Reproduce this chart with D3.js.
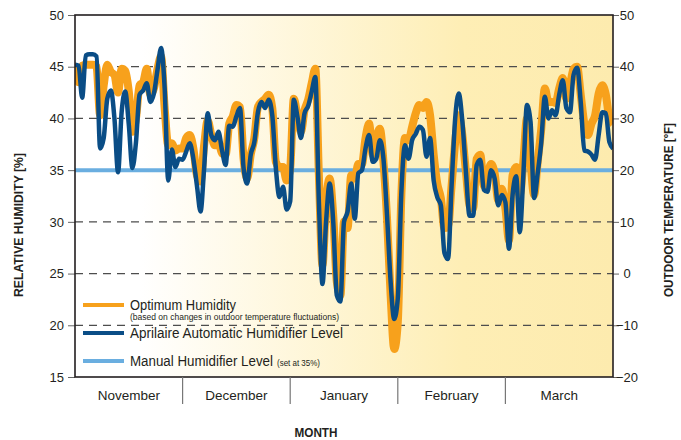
<!DOCTYPE html>
<html>
<head>
<meta charset="utf-8">
<script src="https://cdn.jsdelivr.net/npm/d3@7"></script>
<style>
body{margin:0;background:#fff;}
svg{display:block;}
text{font-family:'Liberation Sans Narrow','Liberation Sans',Arial,sans-serif;fill:#231f20;}
</style>
</head>
<body>
<svg id="chart" width="681" height="440"></svg>
<script>
// month bands on the x axis
var months=["November","December","January","February","March"];

// humidity ticks on the left, temperature ticks on the right
var humidityTicks=[15,20,25,30,35,40,45,50];
var tempTicks=[-20,-10,0,10,20,30,40,50];
var gridLevels=[20,25,30,40,45];

// one value per day, Nov 1 .. Mar 31
var optimum=[
45.2,43.5,45.1,45.2,45.2,45.2,45.0,40.3,43.2,45.2,
44.5,44.2,42.5,44.8,44.6,42.6,38.7,40.0,43.2,43.5,
44.8,42.3,42.9,44.8,46.0,41.0,37.4,37.6,36.9,37.1,
37.1,38.1,38.4,37.1,34.5,33.9,37.4,39.8,38.4,37.4,
37.7,36.6,36.5,39.5,40.2,41.3,41.1,36.1,34.2,36.5,
38.1,41.1,41.6,41.9,42.3,41.0,35.8,35.3,35.3,34.0,
35.2,41.9,40.3,38.7,40.8,41.8,43.4,44.8,34.5,25.8,
31.9,34.2,30.6,24.2,22.9,30.0,29.4,34.5,34.2,35.6,
35.6,38.1,39.5,36.5,38.1,39.0,35.8,30.3,22.9,17.7,
20.3,32.6,38.1,37.9,39.2,40.5,41.3,41.0,41.6,40.3,
36.5,33.7,32.3,29.4,29.5,33.5,37.7,40.3,38.4,34.8,
31.6,31.3,36.1,36.5,33.5,34.5,35.6,34.7,32.1,33.2,
31.3,28.2,34.5,35.3,32.6,35.8,40.0,35.8,32.6,35.8,
39.0,42.9,41.6,41.6,41.5,42.9,43.9,41.9,43.2,44.8,
45.0,42.3,39.5,38.4,39.5,40.3,42.4,43.2,42.3,40.0,
39.5];

var aprilaire=[
45.2,45.1,42.0,46.1,46.2,46.2,46.0,37.1,38.1,41.9,
42.7,40.0,34.8,40.6,42.6,39.4,35.2,37.7,42.3,42.7,
43.4,41.6,42.4,44.7,46.8,42.9,34.0,37.0,35.3,36.1,
36.0,36.8,37.6,36.1,33.5,31.0,35.2,40.5,38.4,37.9,
38.7,36.9,35.5,39.3,39.2,40.2,41.0,35.2,33.7,36.5,
37.7,40.6,41.6,41.0,41.8,40.3,35.2,32.4,33.4,31.2,
32.0,41.8,40.2,38.1,40.5,41.2,42.6,44.0,31.9,24.0,
30.0,33.7,30.0,22.9,22.3,30.0,31.0,33.7,30.3,34.7,
35.0,37.1,38.4,35.8,36.1,37.9,36.1,30.6,24.2,20.6,
22.6,32.9,37.4,36.1,37.9,38.5,39.2,38.9,36.3,38.1,
34.0,32.4,31.6,27.0,26.4,33.5,40.0,42.4,39.7,34.8,
30.6,30.6,35.5,36.0,33.1,32.9,35.0,34.2,31.6,32.6,
31.9,27.4,32.6,34.4,29.0,34.5,41.3,39.7,32.3,34.7,
37.7,42.1,40.0,40.8,40.3,42.3,43.7,41.0,40.6,44.2,
44.9,41.6,36.9,36.8,36.5,36.0,38.4,40.6,40.5,37.7,
37.1];

var manualLevel=35;

var Chart=function(){
	this.svg=d3.select("#chart");
	this.box={left:75,right:613,top:15,bottom:377};
}

Chart.prototype.render=function(){
	var svg=this.svg, box=this.box;

	var x=d3.scaleLinear().domain([0,optimum.length-1]).range([box.left,box.right]);
	var y=d3.scaleLinear().domain([15,50]).range([box.bottom,box.top]);
	var yT=d3.scaleLinear().domain([-20,50]).range([box.bottom,box.top]);
	var xm=d3.scaleBand().domain(months).range([box.left,box.right]);

	// background fade white -> yellow
	var defs=svg.append("defs");
	var grad=defs.append("linearGradient").attr("id","bg").attr("x1","0").attr("x2","1").attr("y1","0").attr("y2","0");
	grad.append("stop").attr("offset","0.12").attr("stop-color","#ffffff");
	grad.append("stop").attr("offset","0.72").attr("stop-color","#feeeb5");
	grad.append("stop").attr("offset","1").attr("stop-color","#fdebae");
	defs.append("clipPath").attr("id","clip").append("rect")
		.attr("x",box.left).attr("y",box.top).attr("width",box.right-box.left).attr("height",box.bottom-box.top);

	svg.append("rect").attr("x",box.left).attr("y",box.top)
		.attr("width",box.right-box.left).attr("height",box.bottom-box.top)
		.attr("fill","url(#bg)");

	//dashed grid
	svg.append("g").selectAll("line").data(gridLevels).enter().append("line")
		.attr("x1",box.left).attr("x2",box.right)
		.attr("y1",function(d){return y(d);}).attr("y2",function(d){return y(d);})
		.attr("stroke","#4d4d4d").attr("stroke-width",1.2).attr("stroke-dasharray","8,6");

	// left axis
	var left=svg.append("g").attr("transform","translate("+box.left+",0)")
		.call(d3.axisLeft(y).tickValues(humidityTicks).tickSize(7).tickPadding(4));
	left.select(".domain").remove();
	left.selectAll("line").attr("stroke","#666");
	left.selectAll("text").style("font-size","13px").attr("fill","#231f20");

	// right axis
	var right=svg.append("g").attr("transform","translate("+box.right+",0)")
		.call(d3.axisRight(yT).tickValues(tempTicks).tickSize(6).tickPadding(3));
	right.select(".domain").remove();
	right.selectAll("line").attr("stroke","#666");
	right.selectAll("text").style("font-size","13px").attr("fill","#231f20")
		.attr("text-anchor","middle").attr("x",14);

	// lines
	var line=function(arr){
		return d3.line().x(function(d,i){return x(i);}).y(function(d){return y(d);})
			.curve(d3.curveMonotoneX)(arr);
	}
	var plot=svg.append("g").attr("clip-path","url(#clip)");
	plot.append("line").attr("x1",box.left).attr("x2",box.right)
		.attr("y1",y(manualLevel)).attr("y2",y(manualLevel))
		.attr("stroke","#6aaee0").attr("stroke-width",4);
	plot.append("path").attr("d",line(optimum)).attr("fill","none")
		.attr("stroke","#f7a11c").attr("stroke-width",8).attr("stroke-linejoin","round");
	plot.append("path").attr("d",line(aprilaire)).attr("fill","none")
		.attr("stroke","#0a4d86").attr("stroke-width",4.5).attr("stroke-linejoin","round");

	// frame
	svg.append("rect").attr("x",box.left).attr("y",box.top)
		.attr("width",box.right-box.left).attr("height",box.bottom-box.top)
		.attr("fill","none").attr("stroke","#231f20").attr("stroke-width",1.6);

	// month bands
	var bottom=svg.append("g");
	bottom.selectAll("line").data(months.slice(1)).enter().append("line")
		.attr("x1",function(d){return xm(d);}).attr("x2",function(d){return xm(d);})
		.attr("y1",box.bottom).attr("y2",box.bottom+27)
		.attr("stroke","#777").attr("stroke-width",1.2);
	bottom.selectAll("text").data(months).enter().append("text")
		.attr("x",function(d){return xm(d)+xm.bandwidth()/2;}).attr("y",box.bottom+23)
		.attr("text-anchor","middle").style("font-size","13.5px").text(function(d){return d;});

	this.legend(svg);
	this.titles(svg);
}

Chart.prototype.legend=function(svg){
	var items=[
		{y:305,color:"#f7a11c",label:"Optimum Humidity",w:106},
		{y:333,color:"#0a4d86",label:"Aprilaire Automatic Humidifier Level",w:213},
		{y:361,color:"#6aaee0",label:"Manual Humidifier Level",w:143}
	];
	var g=svg.append("g");
	g.selectAll("line").data(items).enter().append("line")
		.attr("x1",83).attr("x2",124)
		.attr("y1",function(d){return d.y;}).attr("y2",function(d){return d.y;})
		.attr("stroke",function(d){return d.color;}).attr("stroke-width",4);
	g.selectAll("text.lbl").data(items).enter().append("text").attr("class","lbl")
		.attr("x",130).attr("y",function(d){return d.y+5;})
		.attr("textLength",function(d){return d.w;}).attr("lengthAdjust","spacingAndGlyphs")
		.style("font-size","14px").text(function(d){return d.label;});
	g.append("text").attr("x",130).attr("y",320).style("font-size","8.5px")
		.attr("textLength",209).attr("lengthAdjust","spacingAndGlyphs")
		.text("(based on changes in outdoor temperature fluctuations)");
	g.append("text").attr("x",277).attr("y",366).style("font-size","9px")
		.attr("textLength",43).attr("lengthAdjust","spacingAndGlyphs")
		.text("(set at 35%)");
}

Chart.prototype.titles=function(svg){
	svg.append("text").attr("transform","translate(23,225) rotate(-90)")
		.attr("text-anchor","middle").style("font-size","12.5px").style("font-weight","bold")
		.attr("textLength",144).attr("lengthAdjust","spacingAndGlyphs")
		.text("RELATIVE HUMIDITY [%]");
	svg.append("text").attr("transform","translate(673,210) rotate(-90)")
		.attr("text-anchor","middle").style("font-size","12.5px").style("font-weight","bold")
		.attr("textLength",174).attr("lengthAdjust","spacingAndGlyphs")
		.text("OUTDOOR TEMPERATURE [ºF]");
	svg.append("text").attr("x",316).attr("y",437)
		.attr("text-anchor","middle").style("font-size","12.5px").style("font-weight","bold")
		.attr("textLength",43).attr("lengthAdjust","spacingAndGlyphs")
		.text("MONTH");
}

new Chart().render();
</script>
</body>
</html>
